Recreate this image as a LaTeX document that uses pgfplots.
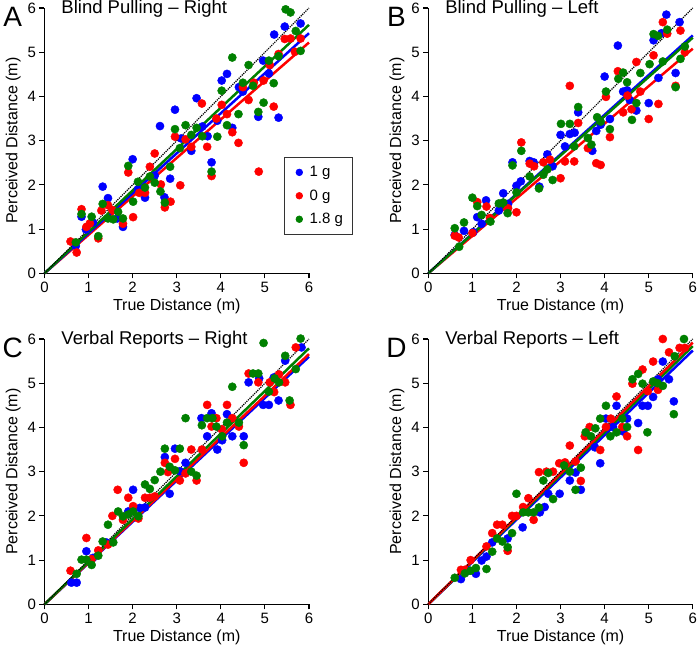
\documentclass[border=0pt]{standalone}
\usepackage{fontspec}
\setmainfont{Liberation Sans}
\usepackage{pgfplots}
\pgfplotsset{compat=1.18}
\definecolor{cblue}{RGB}{0,0,255}
\definecolor{cred}{RGB}{255,0,0}
\definecolor{cgreen}{RGB}{0,128,0}
\pgfplotsset{
  panel/.style={
    scale only axis, width=264.5pt, height=265.3pt,
    xmin=0, xmax=6, ymin=0, ymax=6,
    axis lines=left, axis line style={-, line width=1.2pt},
    xtick={0,...,6}, ytick={0,...,6},
    tick align=outside, major tick length=5pt,
    tick style={line width=1.1pt, black},
    tick label style={font=\fontsize{15}{18}\selectfont},
    label style={font=\fontsize{16}{19}\selectfont},
    /pgf/number format/assume math mode=true,
    xlabel={True Distance (m)}, ylabel={Perceived Distance (m)},
    clip=false,
  },
  pts/.style={only marks, mark=*, mark size=4.1pt},
  reg/.style={no markers, line width=2.5pt, forget plot},
  idl/.style={no markers, black, line width=1.2pt, densely dotted, forget plot},
}
\newcommand{\ttl}[1]{\node[anchor=base west, inner sep=0pt, font=\fontsize{18.5}{22}\selectfont] at (axis cs:0.38,5.88) {#1};}
\newcommand{\lett}[1]{\node[anchor=base, inner sep=0pt, font=\fontsize{28}{32}\selectfont] at (axis description cs:-0.12,0.932) {#1};}
\begin{document}
\begin{tikzpicture}
\path[use as bounding box] (0,0) rectangle (697pt,-649pt);

% ---------------- A: Blind Pulling - Right
\begin{axis}[panel, at={(44.5pt,-273.3pt)}, anchor=south west,
  legend style={at={(axis description cs:0.904,0.438)}, anchor=north west,
    draw=black!80, line width=0.7pt, font=\fontsize{15}{17}\selectfont,
    row sep=9.5pt, inner xsep=8pt, inner ysep=8pt,
    nodes={inner sep=1pt}},
  legend cell align=left,
  legend image code/.code={\path (-1pt,0pt) (15pt,0pt); \fill (6pt,0) circle (3.3pt);}]
\addplot[pts, cblue] coordinates {
(5.81,5.65)(5.45,5.58)(5.21,5.40)(4.96,4.81)(5.09,4.52)(5.31,3.52)(4.85,3.54)
(4.50,4.11)(4.41,4.21)(4.14,4.51)(4.02,4.36)(3.45,3.96)(2.96,3.70)(2.62,3.33)
(3.58,3.32)(3.92,3.45)(4.26,3.29)(3.70,3.10)(3.33,2.77)(3.79,2.51)(2.00,2.58)
(2.50,2.21)(2.85,2.14)(2.12,1.90)(2.28,1.71)(2.72,1.72)(1.32,1.96)(1.44,1.70)
(0.84,1.28)(1.78,1.05)(1.65,1.24)(0.94,0.99)(0.71,0.62)(3.10,3.05)(1.10,1.15)
};
\addlegendentry{1 g}
\addplot[pts, cred] coordinates {
(5.81,5.31)(5.58,5.31)(5.45,5.30)(5.68,5.01)(5.31,4.96)(5.11,4.71)(4.97,4.36)
(4.75,4.31)(4.50,4.21)(4.63,3.92)(4.02,3.81)(4.14,3.60)(3.90,3.50)(5.20,3.77)
(3.57,3.84)(4.26,3.19)(4.40,2.95)(3.20,3.03)(2.96,3.09)(3.33,2.86)(3.69,2.86)
(4.86,2.30)(3.79,2.20)(3.08,1.99)(2.50,2.71)(2.39,2.41)(2.64,2.01)(1.90,2.28)
(2.15,1.82)(2.28,1.82)(2.86,1.62)(2.73,1.49)(2.01,1.27)(1.29,1.42)(1.44,1.54)
(1.54,1.43)(1.78,1.12)(0.84,1.45)(1.03,1.13)(0.95,1.05)(1.22,0.79)(0.59,0.72)
(0.73,0.47)
};
\addlegendentry{0 g}
\addplot[pts, cgreen] coordinates {
(5.47,5.97)(5.58,5.90)(5.70,5.48)(5.81,5.03)(5.31,4.91)(5.09,4.81)(4.26,4.88)
(4.63,4.71)(5.20,4.30)(4.97,3.86)(4.85,3.65)(4.50,4.31)(4.73,4.24)(4.02,4.13)
(4.40,3.60)(4.14,3.35)(3.92,3.09)(2.96,3.26)(3.20,3.35)(3.45,3.29)(3.33,3.13)
(3.58,3.10)(3.07,2.83)(3.79,2.30)(2.85,2.41)(2.39,2.19)(2.50,2.05)(2.12,2.07)
(2.28,1.94)(2.63,1.85)(2.73,1.60)(1.90,2.43)(2.01,1.62)(1.67,1.39)(1.78,1.24)
(1.56,1.22)(1.44,1.24)(1.32,1.57)(1.07,1.28)(0.84,1.34)(1.22,0.84)(0.71,0.70)
};
\addlegendentry{1.8 g}
\addplot[reg, cred] coordinates {(0,0)(6,5.22)};
\addplot[reg, cblue] coordinates {(0,0)(6,5.43)};
\addplot[reg, cgreen] coordinates {(0,0)(6,5.62)};
\addplot[idl] coordinates {(0,0)(6,6)};
\ttl{Blind Pulling \textendash{} Right}
\lett{A}
\end{axis}

% ---------------- B: Blind Pulling - Left
\begin{axis}[panel, at={(428.3pt,-273.3pt)}, anchor=south west]
\addplot[pts, cblue, forget plot] coordinates {
(5.40,5.85)(5.70,5.68)(5.11,5.27)(5.29,5.43)(4.30,5.15)(4.00,4.45)(4.42,4.11)
(4.51,4.14)(4.57,3.92)(4.72,3.68)(5.22,4.42)(5.61,4.53)(5.00,3.85)(4.12,3.49)
(3.91,3.36)(3.81,3.22)(3.72,2.77)(3.40,3.64)(3.32,3.18)(3.21,3.15)(3.00,3.13)
(3.10,2.87)(2.82,2.42)(2.70,2.69)(2.30,2.54)(2.39,2.51)(2.52,1.96)(2.10,2.08)
(2.00,1.98)(1.91,2.51)(1.70,1.81)(1.81,1.57)(1.60,1.42)(1.31,1.65)(1.11,1.27)
(1.21,1.12)(0.81,0.96)(1.02,0.93)(0.60,0.87)
};
\addplot[pts, cred, forget plot] coordinates {
(5.32,5.68)(5.42,5.42)(5.72,5.49)(5.82,5.00)(5.11,4.93)(4.72,4.78)(4.30,4.57)
(4.03,3.99)(4.52,4.02)(4.81,4.11)(4.61,3.71)(4.42,3.64)(5.22,3.83)(5.00,3.49)
(5.61,4.24)(4.12,3.08)(3.21,4.24)(3.40,3.40)(3.62,2.83)(3.81,2.49)(3.91,2.45)
(3.31,2.53)(3.10,2.53)(3.00,2.15)(2.11,2.96)(2.30,2.48)(2.40,2.42)(2.61,2.51)
(2.76,2.57)(2.00,1.38)(1.81,1.47)(1.11,1.61)(1.32,1.51)(1.40,1.25)(1.00,0.91)
(0.60,0.85)(0.69,0.81)
};
\addplot[pts, cgreen, forget plot] coordinates {
(5.11,5.41)(5.21,5.37)(5.42,5.51)(5.82,5.13)(5.72,4.85)(5.32,4.79)(5.02,4.73)
(4.81,4.53)(4.42,4.54)(4.31,4.40)(4.51,4.32)(4.03,4.11)(4.72,3.85)(4.62,3.47)
(5.61,4.21)(4.12,3.26)(3.91,3.43)(3.83,3.53)(3.40,3.76)(3.01,3.38)(3.21,3.38)
(3.31,2.87)(3.62,3.06)(3.70,2.91)(2.82,2.11)(2.70,2.35)(2.61,2.23)(2.51,1.92)
(2.30,2.19)(2.11,2.77)(1.91,2.44)(2.00,1.83)(1.80,1.36)(1.70,1.60)(1.60,1.58)
(1.41,1.17)(1.21,1.32)(1.11,1.52)(1.00,1.71)(0.81,1.15)(0.60,1.02)(0.70,0.60)
};
\addplot[reg, cred] coordinates {(0,0)(6,5.08)};
\addplot[reg, cblue] coordinates {(0,0)(6,5.38)};
\addplot[reg, cgreen] coordinates {(0,0)(6,5.33)};
\addplot[idl] coordinates {(0,0)(6,6)};
\ttl{Blind Pulling \textendash{} Left}
\lett{B}
\end{axis}

% ---------------- C: Verbal Reports - Right
\begin{axis}[panel, at={(44.5pt,-604.3pt)}, anchor=south west]
\addplot[pts, cblue, forget plot] coordinates {
(5.83,5.81)(5.46,5.51)(5.31,4.61)(4.96,4.51)(5.09,4.51)(5.20,5.13)(4.63,5.02)
(4.87,5.11)(4.52,3.80)(4.26,3.80)(4.03,3.71)(3.92,3.50)(4.14,4.30)(3.79,4.32)
(3.56,4.21)(3.69,3.80)(3.20,3.20)(2.96,3.52)(2.73,3.33)(2.84,2.50)(3.07,3.01)
(2.28,2.19)(2.16,2.18)(2.01,2.59)(1.90,2.10)(0.95,1.20)(0.61,0.49)(0.73,0.49)
(1.40,1.40)(1.10,1.05)
};
\addplot[pts, cred, forget plot] coordinates {
(5.70,5.81)(5.46,5.02)(5.58,4.51)(5.21,4.80)(4.63,5.22)(4.85,5.02)(5.11,5.02)
(5.32,5.20)(4.14,4.51)(3.69,4.51)(3.90,4.21)(3.79,4.02)(4.02,3.96)(4.26,4.21)
(4.41,4.02)(4.52,3.20)(3.57,3.50)(3.33,3.50)(2.96,3.29)(2.73,3.20)(3.20,2.96)
(3.07,2.80)(3.45,2.80)(2.80,2.99)(2.50,2.44)(2.39,2.41)(2.28,2.41)(1.66,2.59)
(1.90,2.41)(2.01,2.22)(2.13,1.94)(1.78,1.91)(1.54,2.00)(1.44,1.35)(1.22,1.22)
(0.95,1.50)(1.07,1.02)(0.59,0.76)
};
\addplot[pts, cgreen, forget plot] coordinates {
(5.81,6.01)(4.97,5.91)(5.46,5.62)(5.70,5.32)(5.56,4.61)(5.32,5.02)(5.22,5.11)
(5.09,4.81)(4.73,5.22)(4.85,5.22)(4.26,4.92)(4.52,3.60)(4.41,4.11)(4.14,4.11)
(4.03,3.80)(3.90,4.02)(3.69,4.21)(3.81,4.21)(3.57,4.05)(3.20,4.21)(2.73,3.52)
(3.07,3.52)(2.84,3.11)(2.96,3.03)(3.33,3.00)(3.45,2.91)(2.63,3.00)(2.50,2.81)
(2.28,2.71)(2.39,2.61)(2.13,1.99)(2.01,2.10)(1.90,2.03)(1.67,2.10)(1.78,1.99)
(1.44,1.80)(1.56,1.40)(1.32,1.42)(1.22,1.10)(1.07,0.89)(0.84,1.01)(0.95,1.01)
(0.73,0.69)
};
\addplot[reg, cblue] coordinates {(0,0)(6,5.60)};
\addplot[reg, cred] coordinates {(0,0)(6,5.66)};
\addplot[reg, cgreen] coordinates {(0,0)(6,5.79)};
\addplot[idl] coordinates {(0,0)(6,6)};
\ttl{Verbal Reports \textendash{} Right}
\lett{C}
\end{axis}

% ---------------- D: Verbal Reports - Left
\begin{axis}[panel, at={(428.3pt,-604.3pt)}, anchor=south west]
\addplot[pts, cblue, forget plot] coordinates {
(5.32,5.49)(5.21,5.09)(5.46,5.09)(5.10,4.69)(4.86,4.49)(4.98,4.49)(4.27,4.49)
(5.57,4.59)(4.76,4.10)(4.51,4.20)(4.42,3.91)(4.03,4.20)(4.19,4.01)(3.78,3.55)
(3.90,3.19)(3.46,2.59)(3.34,2.98)(3.21,2.80)(2.98,2.50)(2.72,2.50)(2.64,2.20)
(2.53,2.08)(2.14,1.74)(1.80,1.49)(1.45,1.40)(1.32,1.08)(1.21,0.99)(1.08,0.69)
(0.74,0.57)(0.91,0.76)
};
\addplot[pts, cred, forget plot] coordinates {
(5.32,6.00)(5.46,5.70)(5.70,5.80)(5.82,5.80)(5.10,5.49)(4.86,5.31)(4.63,4.99)
(4.98,4.82)(5.21,4.85)(4.27,4.70)(4.14,4.20)(4.03,4.01)(4.51,3.80)(4.76,3.49)
(3.90,3.49)(4.40,4.01)(3.66,4.01)(3.55,3.80)(3.21,3.59)(3.34,3.23)(3.46,2.79)
(3.10,3.21)(2.97,3.19)(2.83,3.00)(2.68,3.00)(2.51,2.99)(2.39,1.91)(2.27,2.40)
(2.15,2.20)(2.00,2.00)(1.90,2.00)(1.80,1.21)(1.68,1.80)(1.56,1.80)(1.45,1.61)
(1.32,1.31)(0.96,1.00)(0.74,0.78)(0.83,0.78)
};
\addplot[pts, cgreen, forget plot] coordinates {
(5.80,6.00)(5.59,5.61)(5.32,4.94)(5.20,5.00)(5.10,5.04)(4.76,5.21)(4.63,5.09)
(4.86,4.99)(5.57,4.30)(4.97,3.89)(4.51,4.01)(4.40,4.20)(4.27,3.89)(4.13,3.80)
(4.03,4.49)(3.90,4.20)(3.79,3.98)(3.69,3.80)(3.57,3.89)(3.46,3.09)(3.34,2.59)
(3.21,3.00)(3.08,3.14)(2.72,2.97)(2.61,2.80)(2.83,2.38)(2.51,2.19)(2.39,2.08)
(2.27,2.08)(2.00,2.50)(2.15,2.08)(1.90,1.61)(1.80,1.29)(1.68,1.42)(1.56,1.49)
(1.45,1.19)(1.32,0.80)(1.08,0.82)(0.96,0.76)(0.83,0.70)(0.60,0.60)
};
\addplot[reg, cblue] coordinates {(0,0)(6,5.74)};
\addplot[reg, cgreen] coordinates {(0,0)(6,5.84)};
\addplot[reg, cred] coordinates {(0,0)(6,5.92)};
\addplot[idl] coordinates {(0,0)(6,6)};
\ttl{Verbal Reports \textendash{} Left}
\lett{D}
\end{axis}
\end{tikzpicture}
\end{document}
